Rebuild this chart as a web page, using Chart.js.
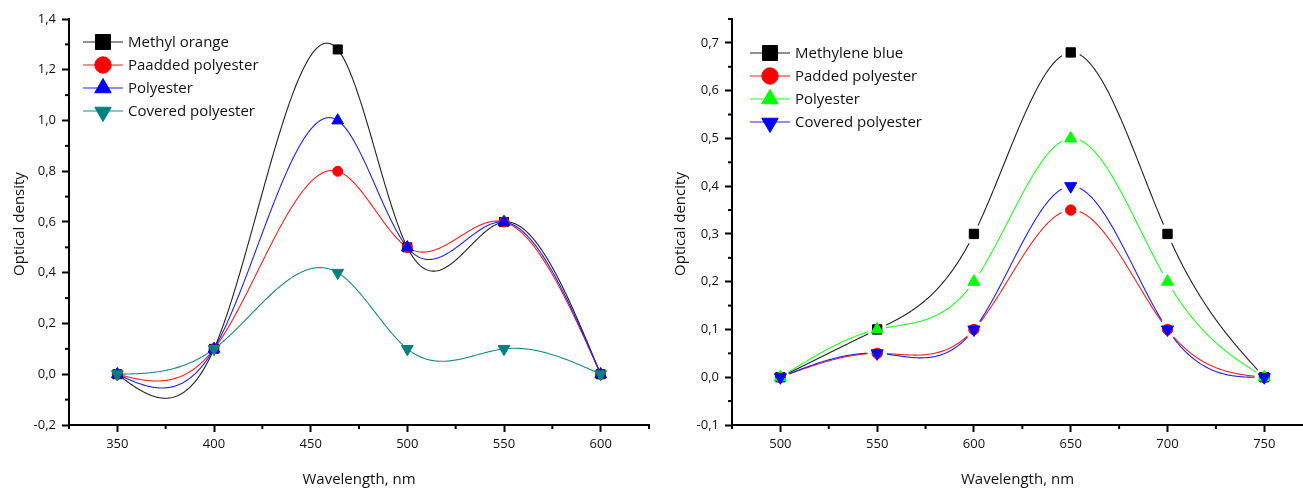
<!DOCTYPE html>
<html>
<head>
<meta charset="utf-8">
<script src="https://cdn.jsdelivr.net/npm/chart.js@4/dist/chart.umd.min.js"></script>
<style>
  html, body { margin: 0; padding: 0; background: #fff; }
  #wrap { position: relative; width: 1303px; height: 488px; }
  canvas { position: absolute; top: 0; }
  #left { left: 0; }
  #right { left: 650px; }
</style>
</head>
<body>
<div id="wrap">
  <canvas id="left" width="650" height="488"></canvas>
  <canvas id="right" width="653" height="488"></canvas>
</div>
<script>
// left panel: methyl orange
const leftWavelengths = [350, 400, 464, 500, 550, 600];
const methylOrange = [0, 0.1, 1.28, 0.5, 0.6, 0];
const paddedPolyesterMO = [0, 0.1, 0.8, 0.5, 0.6, 0];
const polyesterMO = [0, 0.1, 1.0, 0.5, 0.6, 0];
const coveredPolyesterMO = [0, 0.1, 0.4, 0.1, 0.1, 0];
const leftXTicks = [350, 400, 450, 500, 550, 600];
const leftYTicks = [-0.2, 0, 0.2, 0.4, 0.6, 0.8, 1.0, 1.2, 1.4];

// right panel: methylene blue
const rightWavelengths = [500, 550, 600, 650, 700, 750];
const methyleneBlue = [0, 0.1, 0.3, 0.68, 0.3, 0];
const paddedPolyesterMB = [0, 0.05, 0.1, 0.35, 0.1, 0];
const polyesterMB = [0, 0.1, 0.2, 0.5, 0.2, 0];
const coveredPolyesterMB = [0, 0.05, 0.1, 0.4, 0.1, 0];
const rightXTicks = [500, 550, 600, 650, 700, 750];
const rightYTicks = [-0.1, 0, 0.1, 0.2, 0.3, 0.4, 0.5, 0.6, 0.7];

const FONT = '"Open Sans", "DejaVu Sans", sans-serif';

const comma = (v) => Number(v).toFixed(1).replace('.', ',');

// natural cubic spline through the points (Origin-like "Spline" connect)
function naturalSpline(xs, ys) {
  const n = xs.length;
  const M = new Array(n).fill(0);
  if (n > 2) {
    const sub = [], diag = [], sup = [], rhs = [];
    for (let i = 1; i < n - 1; i++) {
      const h0 = xs[i] - xs[i - 1];
      const h1 = xs[i + 1] - xs[i];
      sub.push(h0);
      diag.push(2 * (h0 + h1));
      sup.push(h1);
      rhs.push(6 * ((ys[i + 1] - ys[i]) / h1 - (ys[i] - ys[i - 1]) / h0));
    }
    const m = diag.length;
    for (let i = 1; i < m; i++) {
      const w = sub[i] / diag[i - 1];
      diag[i] -= w * sup[i - 1];
      rhs[i] -= w * rhs[i - 1];
    }
    const sol = new Array(m);
    sol[m - 1] = rhs[m - 1] / diag[m - 1];
    for (let i = m - 2; i >= 0; i--) sol[i] = (rhs[i] - sup[i] * sol[i + 1]) / diag[i];
    for (let i = 0; i < m; i++) M[i + 1] = sol[i];
  }
  return (x) => {
    let i = 0;
    while (i < n - 2 && x > xs[i + 1]) i++;
    const h = xs[i + 1] - xs[i];
    const A = (xs[i + 1] - x) / h;
    const B = (x - xs[i]) / h;
    return A * ys[i] + B * ys[i + 1] + ((A ** 3 - A) * M[i] + (B ** 3 - B) * M[i + 1]) * h * h / 6;
  };
}

function halfSteps(majors, min, max) {
  const step = (majors[1] - majors[0]) / 2;
  const out = [];
  for (let k = 0; ; k++) {
    const v = majors[0] - step + k * step;
    if (v > max + 1e-9) break;
    if (v < min - 1e-9) continue;
    const isMajor = majors.some((m) => Math.abs(m - v) < 1e-9);
    if (!isMajor) out.push(v);
  }
  return out;
}

const panelPlugin = {
  id: 'panel',
  beforeDatasetsDraw(chart) {
    const { ctx, chartArea, scales } = chart;
    const cfg = chart.options.plugins.panel;
    ctx.save();
    ctx.beginPath();
    ctx.rect(chartArea.left, chartArea.top, chartArea.right - chartArea.left, chartArea.bottom - chartArea.top);
    ctx.clip();
    chart.data.datasets.forEach((ds) => {
      const xs = ds.data.map((p) => p.x);
      const ys = ds.data.map((p) => p.y);
      const f = naturalSpline(xs, ys);
      const pts = ds.data.map((p) => [scales.x.getPixelForValue(p.x), scales.y.getPixelForValue(p.y)]);
      ctx.strokeStyle = ds.lineColor;
      ctx.lineWidth = 1.1;
      ctx.beginPath();
      let pen = false;
      const steps = 600;
      for (let s = 0; s <= steps; s++) {
        const xv = xs[0] + (xs[xs.length - 1] - xs[0]) * s / steps;
        const px = scales.x.getPixelForValue(xv);
        const py = scales.y.getPixelForValue(f(xv));
        const hidden = cfg.gap > 0 && pts.some(([qx, qy]) => Math.hypot(px - qx, py - qy) < cfg.gap);
        if (hidden) { pen = false; continue; }
        if (pen) ctx.lineTo(px, py); else ctx.moveTo(px, py);
        pen = true;
      }
      ctx.stroke();
    });
    ctx.restore();
  },
  afterDraw(chart) {
    const { ctx, chartArea, scales } = chart;
    const cfg = chart.options.plugins.panel;
    ctx.save();
    // minor ticks
    ctx.strokeStyle = '#000';
    ctx.lineWidth = 2;
    halfSteps(cfg.xMajor, scales.x.min, scales.x.max).forEach((v) => {
      const px = scales.x.getPixelForValue(v);
      ctx.beginPath();
      ctx.moveTo(px, chartArea.bottom);
      ctx.lineTo(px, chartArea.bottom + 4);
      ctx.stroke();
    });
    halfSteps(cfg.yMajor, scales.y.min, scales.y.max).forEach((v) => {
      const py = scales.y.getPixelForValue(v);
      ctx.beginPath();
      ctx.moveTo(chartArea.left - 4, py);
      ctx.lineTo(chartArea.left, py);
      ctx.stroke();
    });

    // axis titles
    ctx.fillStyle = '#111';
    ctx.font = '15px ' + FONT;
    ctx.textAlign = 'center';
    ctx.textBaseline = 'middle';
    ctx.fillText(cfg.xTitle, (chartArea.left + chartArea.right) / 2, 480);
    ctx.save();
    ctx.translate(cfg.yTitleX, (chartArea.top + chartArea.bottom) / 2 + 2);
    ctx.rotate(-Math.PI / 2);
    ctx.fillText(cfg.yTitle, 0, 0);
    ctx.restore();

    // legend: short line with marker in the middle
    ctx.font = '15px ' + FONT;
    ctx.textAlign = 'left';
    chart.data.datasets.forEach((ds, i) => {
      const y = cfg.legendY + i * 23;
      const x0 = cfg.legendX;
      ctx.strokeStyle = ds.lineColor;
      ctx.lineWidth = 1.1;
      ctx.beginPath();
      ctx.moveTo(x0, y);
      ctx.lineTo(x0 + 40, y);
      ctx.stroke();
      ctx.fillStyle = ds.pointBackgroundColor;
      ctx.strokeStyle = ds.pointBorderColor;
      ctx.lineWidth = 1;
      Chart.helpers.drawPoint(ctx, {
        pointStyle: ds.pointStyle,
        rotation: ds.pointRotation || 0,
        radius: ds.legendRadius,
        borderWidth: 1,
      }, x0 + 20, y + (ds.pointRotation ? 1 : 0));
      ctx.fillStyle = '#111';
      ctx.fillText(ds.label, x0 + 45, y + 1);
    });
    ctx.restore();
  },
};

function series(label, xs, ys, color, lineColor, style, radius, legendRadius, rotation) {
  return {
    label,
    data: xs.map((x, i) => ({ x, y: ys[i] })),
    showLine: false,
    lineColor,
    pointStyle: style,
    pointRotation: rotation || 0,
    pointRadius: radius,
    pointHoverRadius: radius,
    pointBackgroundColor: color,
    pointBorderColor: color,
    pointBorderWidth: 1,
    legendRadius,
  };
}

function makePanel(canvas, p) {
  p.datasets.forEach((ds, i) => { ds.order = p.datasets.length - i; });
  return new Chart(canvas, {
    type: 'scatter',
    data: { datasets: p.datasets },
    options: {
      responsive: false,
      animation: false,
      devicePixelRatio: 1,
      layout: { autoPadding: false, padding: { top: 19, right: p.padRight, left: 0, bottom: 0 } },
      plugins: {
        legend: { display: false },
        tooltip: { enabled: false },
        panel: {
          xMajor: p.xTicks,
          yMajor: p.yTicks,
          xTitle: 'Wavelength, nm',
          yTitle: p.yTitle,
          yTitleX: p.yTitleX,
          legendX: p.legendX,
          legendY: p.legendY,
          gap: p.gap,
        },
      },
      scales: {
        x: {
          type: 'linear',
          min: p.xMin,
          max: p.xMax,
          afterBuildTicks: (scale) => { scale.ticks = p.xTicks.map((value) => ({ value })); },
          afterFit: (scale) => {
            scale.height = 63;
            scale.paddingLeft = 0;
            scale.paddingRight = 0;
          },
          grid: { display: true, drawOnChartArea: false, tickLength: 7, tickWidth: 2, tickColor: '#000' },
          border: { display: true, color: '#000', width: 2 },
          ticks: {
            autoSkip: false,
            maxRotation: 0,
            padding: 4,
            color: '#111',
            font: { family: FONT, size: 13 },
            callback: (v) => String(v),
          },
        },
        y: {
          type: 'linear',
          min: p.yMin,
          max: p.yMax,
          afterBuildTicks: (scale) => { scale.ticks = p.yTicks.map((value) => ({ value })); },
          afterFit: (scale) => {
            scale.width = p.yWidth;
            scale.paddingTop = 0;
            scale.paddingBottom = 0;
          },
          grid: { display: true, drawOnChartArea: false, tickLength: 7, tickWidth: 2, tickColor: '#000' },
          border: { display: true, color: '#000', width: 2 },
          ticks: {
            autoSkip: false,
            padding: 6,
            color: '#111',
            font: { family: FONT, size: 13 },
            callback: (v) => comma(v),
          },
        },
      },
    },
    plugins: [panelPlugin],
  });
}

makePanel(document.getElementById('left'), {
  xMin: 325, xMax: 625, xTicks: leftXTicks,
  yMin: -0.2, yMax: 1.4, yTicks: leftYTicks,
  yWidth: 69, padRight: 1,
  yTitle: 'Optical density', yTitleX: 20,
  legendX: 83, legendY: 42, gap: 0,
  datasets: [
    series('Methyl orange', leftWavelengths, methylOrange, '#000000', '#222222', 'rect', 6.4, 10.6),
    series('Paadded polyester', leftWavelengths, paddedPolyesterMO, '#ff0000', '#ff2020', 'circle', 5, 8.2),
    series('Polyester', leftWavelengths, polyesterMO, '#0000ff', '#2020ff', 'triangle', 6.8, 9.5),
    series('Covered polyester', leftWavelengths, coveredPolyesterMO, '#008080', '#1a8a8a', 'triangle', 6.8, 9.5, 180),
  ],
});

makePanel(document.getElementById('right'), {
  xMin: 475, xMax: 770, xTicks: rightXTicks,
  yMin: -0.1, yMax: 0.75, yTicks: rightYTicks,
  yWidth: 82, padRight: 0,
  yTitle: 'Optical dencity', yTitleX: 31,
  legendX: 100, legendY: 53, gap: 9,
  datasets: [
    series('Methylene blue', rightWavelengths, methyleneBlue, '#000000', '#222222', 'rect', 6.6, 10.6),
    series('Padded polyester', rightWavelengths, paddedPolyesterMB, '#ff0000', '#ff2020', 'circle', 5.2, 8.2),
    series('Polyester', rightWavelengths, polyesterMB, '#00ff00', '#20ff20', 'triangle', 7, 9.5),
    series('Covered polyester', rightWavelengths, coveredPolyesterMB, '#0000ff', '#2020ff', 'triangle', 7, 9.5, 180),
  ],
});
</script>
</body>
</html>
